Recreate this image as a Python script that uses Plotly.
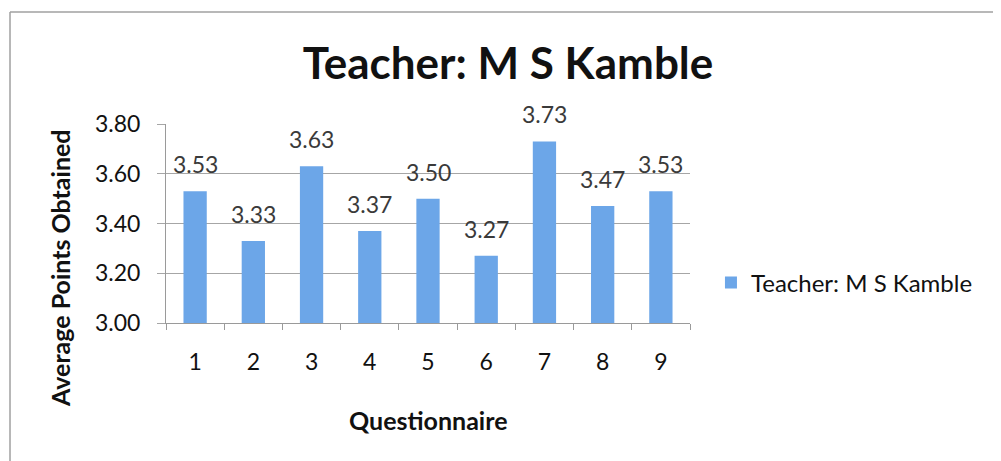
import plotly.graph_objects as go

categories = ["1", "2", "3", "4", "5", "6", "7", "8", "9"]
values = [3.53, 3.33, 3.63, 3.37, 3.50, 3.27, 3.73, 3.47, 3.53]
labels = ["3.53", "3.33", "3.63", "3.37", "3.50", "3.27", "3.73", "3.47", "3.53"]
y_ticks = [3.00, 3.20, 3.40, 3.60, 3.80]
y_tick_text = ["3.00", "3.20", "3.40", "3.60", "3.80"]
series_name = "Teacher: M S Kamble"

FONT = "Lato, 'Open Sans', sans-serif"
BAR = "#6CA6E8"

fig = go.Figure()
fig.add_trace(go.Bar(
    x=categories, y=values, name=series_name,
    marker=dict(color=BAR, line=dict(width=0)),
    showlegend=True,
))

annotations = []
for i, (v, t) in enumerate(zip(values, labels)):
    annotations.append(dict(x=i, y=v, xref="x", yref="y", text=t, showarrow=False,
                            yshift=27, font=dict(family=FONT, size=23, color="#3a3a3a")))

annotations.append(dict(text="<b>Average Points Obtained</b>", xref="paper", yref="paper",
                        x=-0.2023, y=0.276, xanchor="center", yanchor="middle", textangle=-90,
                        showarrow=False, font=dict(family=FONT, size=25, color="#111111")))
annotations.append(dict(text="<b>Questionnaire</b>", xref="paper", yref="paper",
                        x=(428 - 8 - 158) / 524, y=(315 - 412) / 199, xanchor="center", yanchor="middle",
                        showarrow=False, font=dict(family=FONT, size=25, color="#111111")))

fig.update_layout(
    width=993, height=453,
    margin=dict(l=158, r=311, t=116, b=138),
    paper_bgcolor="white", plot_bgcolor="white",
    title=dict(text="<b>Teacher: M S Kamble</b>", x=0.5035, xanchor="center",
               y=0.878, yanchor="middle",
               font=dict(family=FONT, size=44, color="#111111")),
    bargap=0.6,
    xaxis=dict(type="category", range=[-0.5, 8.5], showgrid=False, showline=True,
               linecolor="#9a9a9a", linewidth=1, ticks="outside", tickson="boundaries",
               ticklen=6, tickcolor="#9a9a9a", ticklabelstandoff=18,
               tickfont=dict(family=FONT, size=23, color="#111111")),
    yaxis=dict(range=[3.0, 3.8], tickvals=y_ticks, ticktext=y_tick_text,
               showgrid=True, gridcolor="#a6a6a6", gridwidth=1,
               showline=True, linecolor="#9a9a9a", linewidth=1,
               ticks="outside", ticklen=8, tickcolor="#a6a6a6",
               ticklabelstandoff=12, zeroline=False,
               tickfont=dict(family=FONT, size=23, color="#111111")),
    legend=dict(x=1.040, y=0.201, xanchor="left", yanchor="middle",
                font=dict(family=FONT, size=24, color="#111111"),
                itemsizing="constant"),
    annotations=annotations,
    shapes=[
        dict(type="line", xref="paper", yref="paper", x0=-0.2977, x1=1.7, y0=1.5628, y1=1.5628,
             line=dict(color="#a0a0a0", width=1.5)),
        dict(type="line", xref="paper", yref="paper", x0=-0.2977, x1=-0.2977, y0=1.5628, y1=-0.8,
             line=dict(color="#a0a0a0", width=1.5)),
    ],
)

fig.write_html("out.html")
